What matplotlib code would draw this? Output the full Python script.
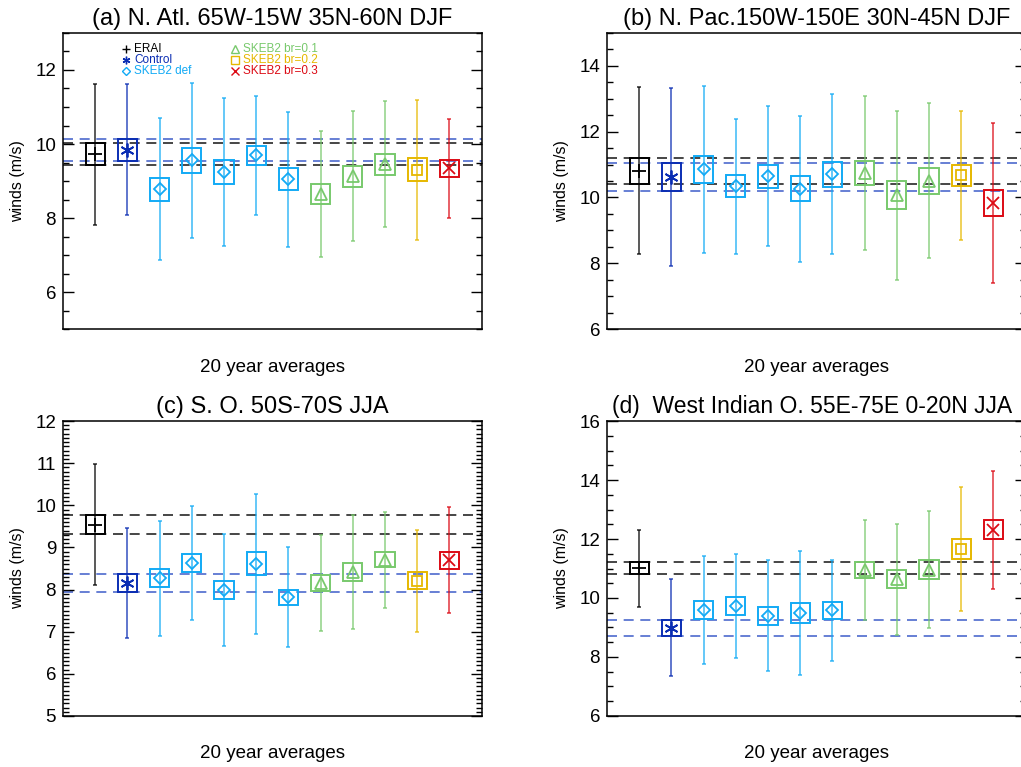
import numpy as np
import matplotlib
matplotlib.use('Agg')
import matplotlib.pyplot as plt
from matplotlib.patches import Rectangle
from matplotlib.ticker import MultipleLocator

plt.rcParams['font.family'] = ['Liberation Sans', 'DejaVu Sans']

# experiments, number of runs in each, colours and symbols
series = ['ERAI', 'Control', 'SKEB2 def', 'SKEB2 br=0.1', 'SKEB2 br=0.2', 'SKEB2 br=0.3']
n_runs = [1, 1, 5, 3, 1, 1]
colors = ['black', '#0a2db3', '#12aaf5', '#78c96c', '#e6b800', '#dc0a14']
markers = ['+', (6, 2, 0), 'D', '^', 's', 'x']
msizes = [10, 10, 6.5, 8.5, 7, 8]

# (a) N. Atlantic  -- mean, whisker half length (sd), box half height
atl_mean = [9.72, 9.84, 8.78, 9.56, 9.24, 9.69, 9.05, 8.65, 9.13, 9.45, 9.30, 9.34]
atl_sd = [1.91, 1.77, 1.92, 2.09, 2.00, 1.60, 1.82, 1.70, 1.76, 1.70, 1.89, 1.34]
atl_box = [0.30, 0.29, 0.31, 0.33, 0.32, 0.26, 0.30, 0.28, 0.28, 0.28, 0.31, 0.22]

# (b) N. Pacific
pac_mean = [10.81, 10.62, 10.85, 10.34, 10.65, 10.27, 10.70, 10.75, 10.07, 10.51, 10.67, 9.83]
pac_sd = [2.54, 2.71, 2.54, 2.06, 2.13, 2.22, 2.43, 2.34, 2.57, 2.35, 1.97, 2.42]
pac_box = [0.40, 0.43, 0.41, 0.33, 0.35, 0.37, 0.39, 0.37, 0.43, 0.39, 0.31, 0.39]

# (c) Southern Ocean
so_mean = [9.54, 8.16, 8.27, 8.63, 7.99, 8.61, 7.82, 8.16, 8.42, 8.71, 8.21, 8.70]
so_sd = [1.43, 1.30, 1.36, 1.35, 1.34, 1.66, 1.18, 1.14, 1.36, 1.14, 1.21, 1.25]
so_box = [0.23, 0.21, 0.21, 0.22, 0.22, 0.27, 0.18, 0.19, 0.22, 0.18, 0.20, 0.20]

# (d) West Indian Ocean
wio_mean = [11.01, 8.99, 9.59, 9.73, 9.40, 9.49, 9.58, 10.95, 10.64, 10.96, 11.66, 12.32]
wio_sd = [1.31, 1.65, 1.84, 1.77, 1.89, 2.10, 1.71, 1.68, 1.88, 1.98, 2.10, 2.00]
wio_box = [0.20, 0.27, 0.30, 0.29, 0.30, 0.34, 0.28, 0.26, 0.31, 0.32, 0.34, 0.32]

titles = ['(a) N. Atl. 65W-15W 35N-60N DJF', '(b) N. Pac.150W-150E 30N-45N DJF',
          '(c) S. O. 50S-70S JJA', '(d)  West Indian O. 55E-75E 0-20N JJA']


def draw(ax, mean, sd, box, ylim, minor, title):
    mean, sd, box = np.array(mean), np.array(sd), np.array(box)
    x = np.arange(1, len(mean) + 1)
    grp = np.repeat(np.arange(len(series)), n_runs)

    # dashed reference lines at the ERAI and Control box edges
    for k, c in [(0, 'black'), (1, '#2d4fc4')]:
        for y in (mean[k] - box[k], mean[k] + box[k]):
            ax.axhline(y, color=c, lw=1.2, ls=(0, (6, 4)), alpha=0.85, zorder=1)

    for i in range(len(x)):
        g = grp[i]
        c = colors[g]
        ax.errorbar(x[i], mean[i], yerr=sd[i], fmt='none', ecolor=c, elinewidth=1.3,
                    capsize=1.5, capthick=1.3, alpha=0.7, zorder=2)
        ax.add_patch(Rectangle((x[i] - 0.3, mean[i] - box[i]), 0.6, 2 * box[i],
                               fill=False, ec=c, lw=1.4, zorder=3))
        ax.plot(x[i], mean[i], marker=markers[g], ms=msizes[g], mfc='none', mec=c,
                mew=1.3, ls='none', zorder=4)

    ax.set_xlim(0, 13)
    ax.set_ylim(ylim)
    ax.set_xticks([])
    ax.yaxis.set_major_locator(MultipleLocator(2 if minor == 0.5 else 1))
    ax.yaxis.set_minor_locator(MultipleLocator(minor))
    ax.tick_params(axis='y', which='both', direction='in', left=True, right=True)
    ax.tick_params(axis='y', which='major', length=8, width=1, labelsize=13.5, pad=5)
    ax.tick_params(axis='y', which='minor', length=4, width=1)
    for s in ax.spines.values():
        s.set_linewidth(1.1)
    ax.set_title(title, fontsize=17, pad=6)
    ax.set_ylabel('winds (m/s)', fontsize=11.5)
    ax.yaxis.set_label_coords(-0.09, 0.5)
    ax.set_xlabel('20 year averages', fontsize=13.5)
    ax.xaxis.set_label_coords(0.5, -0.10)


fig = plt.figure(figsize=(10.21, 7.67), dpi=100)
ax_a = fig.add_axes([0.0617, 0.571, 0.410, 0.386])
ax_b = fig.add_axes([0.5945, 0.571, 0.410, 0.386])
ax_c = fig.add_axes([0.0617, 0.0665, 0.410, 0.3846])
ax_d = fig.add_axes([0.5945, 0.0665, 0.410, 0.3846])

draw(ax_a, atl_mean, atl_sd, atl_box, (5, 13), 0.5, titles[0])
draw(ax_b, pac_mean, pac_sd, pac_box, (6, 15), 0.5, titles[1])
draw(ax_c, so_mean, so_sd, so_box, (5, 12), 0.1, titles[2])
draw(ax_d, wio_mean, wio_sd, wio_box, (6, 16), 0.5, titles[3])
# the right-hand panel runs off the page, keep its long title inside
ax_d.set_title(titles[3], fontsize=16.5, pad=6, x=0.49)

# legend in panel (a): two columns of coloured symbols and text
for j, name in enumerate(series):
    col, row = (0, j) if j < 3 else (1, j - 3)
    xm = 0.15 + col * 0.26
    ym = 0.945 - row * 0.036
    ax_a.plot(xm, ym, marker=markers[j], ms=5.5 if j != 2 else 4, mfc='none',
              mec=colors[j], mew=1, ls='none', transform=ax_a.transAxes)
    ax_a.text(xm + 0.02, ym, name, color=colors[j], fontsize=8.5, va='center',
              ha='left', transform=ax_a.transAxes)

fig.savefig('out.png', dpi=100)
